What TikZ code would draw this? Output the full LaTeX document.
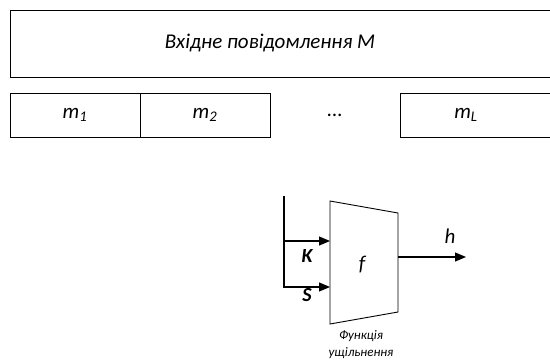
\documentclass[tikz,border=0pt]{standalone}
\usepackage{fontspec}
\setmainfont{Carlito}
\usetikzlibrary{arrows.meta}
\begin{document}
\begin{tikzpicture}[x=1pt, y=-1pt, line width=0.9pt,
  txt/.style={font=\fontsize{21}{25}\selectfont\itshape},
  seg/.style={rectangle, draw, minimum height=44pt, minimum width=130pt, txt},
  arr/.style={-{Triangle[length=11pt, width=9pt]}, line width=1.2pt}]
  \useasboundingbox (0,0) rectangle (550,362);
  \clip (0,0) rectangle (550,362);
  % Nodes
  \node (Mbox) [rectangle, draw, minimum height=67pt, minimum width=560pt, anchor=north west] at (10, 10) {};
  \node (M) [txt] at (270, 43.5) {Вхідне повідомлення М};
  \node (m1) [seg] at (75, 115) {m\textsubscript{1}};
  \node (m2) [seg] at (205, 115) {m\textsubscript{2}};
  \node (dots) [txt] at (335, 115) {...};
  \node (mLbox) [rectangle, draw, minimum height=44pt, minimum width=160pt, anchor=west] at (400, 115) {};
  \node (mL) [txt] at (466, 115) {m\textsubscript{L}};
  % Compression function
  \draw (330, 201) -- (398, 213) -- (398, 312) -- (330, 324) -- cycle;
  \coordinate (Kin) at (330, 241);
  \coordinate (Sin) at (330, 287);
  \coordinate (fout) at (398, 257);
  \coordinate (top) at (284, 196);
  \coordinate (hend) at (466, 257);
  \node (f) [txt] at (362, 265) {f};
  \node (K) [font=\fontsize{20}{23}\selectfont\bfseries\itshape] at (307, 256) {K};
  \node (S) [font=\fontsize{20}{23}\selectfont\bfseries\itshape] at (307, 295) {S};
  \node (h) [txt] at (450, 236) {h};
  \node (lbl) [font=\fontsize{13}{17}\selectfont\itshape, align=center] at (361, 345) {Функція\\ущільнення};
  % Arrows
  \draw[arr] (top) |- (Sin);
  \draw[arr] (top |- Kin) -- (Kin);
  \draw[arr] (fout) -- (hend);
\end{tikzpicture}
\end{document}
